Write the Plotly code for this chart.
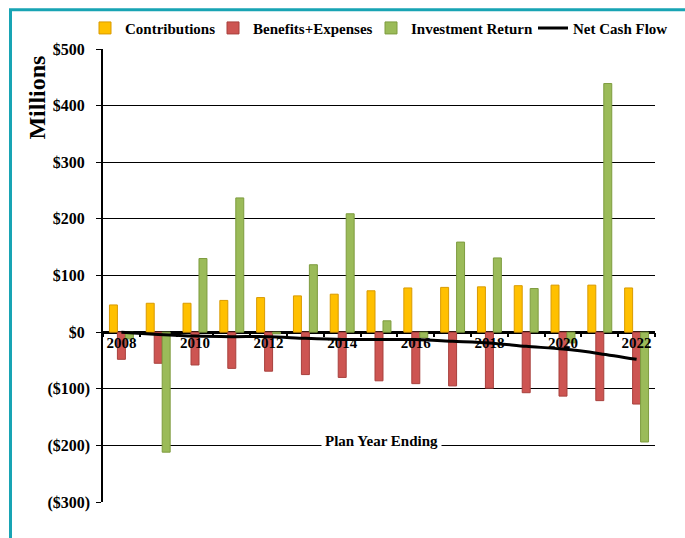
import plotly.graph_objects as go

years = list(range(2008, 2023))
contributions = [48, 51, 51, 56, 61, 64, 67, 73, 78, 79, 80, 82, 83, 83, 78]
benefits_expenses = [-48, -55, -58, -64, -69, -75, -80, -86, -91, -95, -99, -107, -113, -121, -127]
investment_return = [-12, -212, 130, 237, -3, 119, 209, 20, -10, 159, 131, 77, -19, 439, -194]
net_cash_flow = [0, -4, -7, -8, -8, -11, -13, -13, -13, -16, -19, -25, -30, -38, -48]

y_tickvals = [500, 400, 300, 200, 100, 0, -100, -200, -300]
y_ticktext = ["$500", "$400", "$300", "$200", "$100", "$0", "($100)", "($200)", "($300)"]
x_tickvals = [2008, 2010, 2012, 2014, 2016, 2018, 2020, 2022]

FONT = "Liberation Serif"
PAD = "<span style='color:rgba(0,0,0,0)'>)</span>"
y_ticklabels = [t if t.startswith("(") else t + PAD for t in y_ticktext]

fig = go.Figure()
fig.add_trace(go.Bar(x=years, y=contributions, name="Contributions", legendwidth=83,
                     marker=dict(color="#FFC000", line=dict(color="#D99A00", width=1))))
fig.add_trace(go.Bar(x=years, y=benefits_expenses, name="Benefits+Expenses", legendwidth=113,
                     marker=dict(color="#CD5552", line=dict(color="#A8403D", width=1))))
fig.add_trace(go.Bar(x=years, y=investment_return, name="Investment Return", legendwidth=117,
                     marker=dict(color="#9BBB59", line=dict(color="#7E9C3F", width=1))))
fig.add_trace(go.Scatter(x=years, y=net_cash_flow, name="Net Cash Flow", mode="lines", legendwidth=100,
                         line=dict(color="black", width=3, shape="spline", smoothing=0.8)))

L, R, T, B = 103, 30, 45, 36
W, H = 685, 538
pw, ph = W - L - R, H - T - B

def px_x(p):
    return (p - L) / pw

def px_y(p):
    return (H - B - p) / ph

fig.update_layout(
    width=W, height=H,
    margin=dict(l=L, r=R, t=T, b=B),
    paper_bgcolor="white", plot_bgcolor="white",
    barmode="group", bargap=0.35, bargroupgap=0,
    font=dict(family=FONT, size=15, color="black", weight="bold"),
    showlegend=True,
    legend=dict(orientation="h", x=px_x(85), xanchor="left", y=px_y(24), yanchor="middle",
                font=dict(family=FONT, size=15, color="black", weight="bold"),
                itemwidth=30, tracegroupgap=0, bgcolor="rgba(0,0,0,0)"),
    xaxis=dict(range=[2007.5, 2022.5], tickvals=x_tickvals, ticks="", showgrid=False,
               anchor="free", position=300 / 800, showline=False, zeroline=False,
               tickfont=dict(family=FONT, size=15, color="black", weight="bold"),
               minor=dict(tick0=2007.5, dtick=1, ticks="outside", ticklen=4,
                          tickcolor="black", tickwidth=1.5, showgrid=False)),
    yaxis=dict(range=[-300, 500], tickvals=y_tickvals, ticktext=y_ticklabels,
               showgrid=True, gridcolor="black", gridwidth=1,
               showline=True, linecolor="black", linewidth=1.5,
               ticks="outside", ticklen=5, tickcolor="black", ticklabelstandoff=3,
               zeroline=True, zerolinecolor="black", zerolinewidth=2.5,
               tickfont=dict(family=FONT, size=16, color="black", weight="bold")),
    shapes=[dict(type="rect", xref="paper", yref="paper",
                 x0=px_x(10.5), x1=px_x(720), y0=px_y(5.5), y1=px_y(580),
                 line=dict(color="#18A4B4", width=3), layer="below")],
    annotations=[
        dict(text="Millions", xref="paper", yref="paper", x=px_x(37), y=px_y(94),
             textangle=-90, showarrow=False, xanchor="center", yanchor="middle",
             font=dict(family=FONT, size=24, color="black", weight="bold")),
        dict(text="Plan Year Ending", xref="paper", yref="y", x=px_x(381), y=-193,
             showarrow=False, xanchor="center", yanchor="middle", bgcolor="white",
             borderpad=3,
             font=dict(family=FONT, size=15, color="black", weight="bold")),
    ],
)

fig.write_html("out.html")
